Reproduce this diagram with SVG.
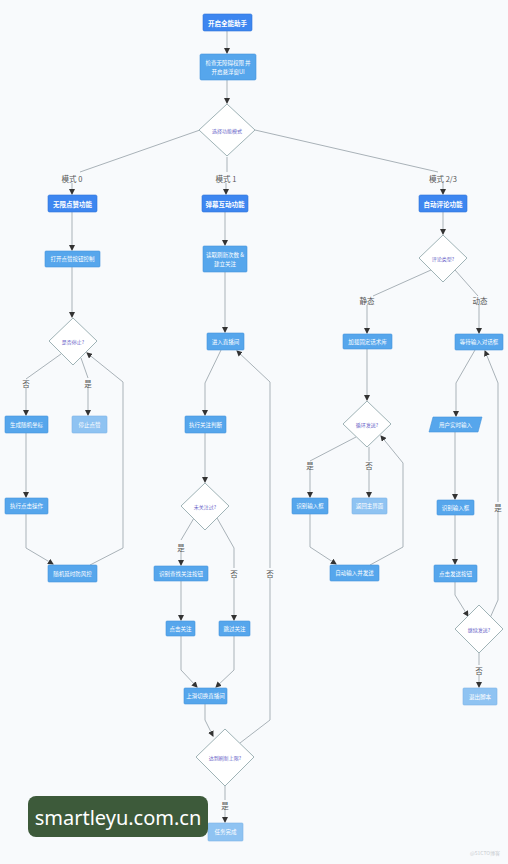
<svg xmlns="http://www.w3.org/2000/svg" width="508" height="864" viewBox="0 0 508 864">
<defs>
<marker id="ah" markerWidth="6" markerHeight="6" refX="5" refY="3" orient="auto" markerUnits="userSpaceOnUse">
<path d="M0,0 L6,3 L0,6 Z" fill="#333"/>
</marker>
<style>
.e{fill:none;stroke:#a9b2b8;stroke-width:1}
.m rect{fill:#3d86f0;stroke:#2f74d8;stroke-width:0.6}
.p rect,.p polygon{fill:#56a6ec;stroke:#4593db;stroke-width:0.6}
.t rect{fill:#8fc3f2;stroke:#7cb4e6;stroke-width:0.6}
.d polygon{fill:#ffffff;stroke:#9fb3b6;stroke-width:1}
text{font-family:"Noto Sans CJK SC","Liberation Sans",sans-serif;text-anchor:middle;dominant-baseline:central}
.m text{fill:#fff;font-size:6.5px;font-weight:bold}
.p text,.t text{fill:#fff;font-size:5.5px}
.d text{fill:#6a5fc8;font-size:5px}
.lb rect{fill:#f8fafc}
.lb text{fill:#555;font-size:7.5px}
</style>
</defs>
<rect width="508" height="864" fill="#f8fafc"/>
<g id="connectors">
<path class="e" d="M227,31 L227,53" marker-end="url(#ah)"/>
<path class="e" d="M227,80 L227,103" marker-end="url(#ah)"/>
<path class="e" d="M200,130 L80,172"/>
<path class="e" d="M72,183 L72,194" marker-end="url(#ah)"/>
<path class="e" d="M227,157 L227,172"/>
<path class="e" d="M226,183 L226,194" marker-end="url(#ah)"/>
<path class="e" d="M255,130 L438,172"/>
<path class="e" d="M443,183 L443,194" marker-end="url(#ah)"/>
<!-- mode 0 -->
<path class="e" d="M72,212 L72,250" marker-end="url(#ah)"/>
<path class="e" d="M72,267 L72,317" marker-end="url(#ah)"/>
<path class="e" d="M61,354 L26,379"/>
<path class="e" d="M26,388 L26,415" marker-end="url(#ah)"/>
<path class="e" d="M81,358 L88,378"/>
<path class="e" d="M88,388 L88,415" marker-end="url(#ah)"/>
<path class="e" d="M26,433 L26,497" marker-end="url(#ah)"/>
<path class="e" d="M26,514 L26,548 L53,564" marker-end="url(#ah)"/>
<path class="e" d="M90,565 L123,548 L123,382 L87,353" marker-end="url(#ah)"/>
<!-- mode 1 -->
<path class="e" d="M225,212 L225,245" marker-end="url(#ah)"/>
<path class="e" d="M225,272 L225,332" marker-end="url(#ah)"/>
<path class="e" d="M221,350 L205,383 L205,415" marker-end="url(#ah)"/>
<path class="e" d="M205,433 L205,482" marker-end="url(#ah)"/>
<path class="e" d="M194,518 L181,540"/>
<path class="e" d="M181,552 L181,565" marker-end="url(#ah)"/>
<path class="e" d="M217,518 L234,548 L234,568"/>
<path class="e" d="M234,578 L234,620" marker-end="url(#ah)"/>
<path class="e" d="M181,581 L181,620" marker-end="url(#ah)"/>
<path class="e" d="M181,636 L181,670 L197,687" marker-end="url(#ah)"/>
<path class="e" d="M234,636 L234,670 L216,687" marker-end="url(#ah)"/>
<path class="e" d="M205,704 L205,720 L213,736" marker-end="url(#ah)"/>
<path class="e" d="M240,743 L270,720 L270,578"/>
<path class="e" d="M270,568 L270,382 L237,351" marker-end="url(#ah)"/>
<path class="e" d="M225,786 L225,800"/>
<path class="e" d="M225,810 L225,822" marker-end="url(#ah)"/>
<!-- mode 2/3 -->
<path class="e" d="M443,212 L443,234" marker-end="url(#ah)"/>
<path class="e" d="M431,270 L373,296"/>
<path class="e" d="M367,305 L367,333" marker-end="url(#ah)"/>
<path class="e" d="M367,349 L367,400" marker-end="url(#ah)"/>
<path class="e" d="M356,437 L310,461"/>
<path class="e" d="M310,470 L310,497" marker-end="url(#ah)"/>
<path class="e" d="M369,447 L369,461"/>
<path class="e" d="M369,470 L369,497" marker-end="url(#ah)"/>
<path class="e" d="M310,514 L310,547 L336,564" marker-end="url(#ah)"/>
<path class="e" d="M370,565 L403,547 L403,463 L381,436" marker-end="url(#ah)"/>
<path class="e" d="M455,270 L478,296"/>
<path class="e" d="M479,305 L479,333" marker-end="url(#ah)"/>
<path class="e" d="M475,350 L456,383 L456,416" marker-end="url(#ah)"/>
<path class="e" d="M455,432 L455,499" marker-end="url(#ah)"/>
<path class="e" d="M455,515 L455,564" marker-end="url(#ah)"/>
<path class="e" d="M455,582 L455,595 L468,616" marker-end="url(#ah)"/>
<path class="e" d="M490,618 L498,600 L498,512"/>
<path class="e" d="M498,502 L498,383 L485,351" marker-end="url(#ah)"/>
<path class="e" d="M479,653 L479,665"/>
<path class="e" d="M479,675 L479,687" marker-end="url(#ah)"/>
</g>
<g id="labels" class="lb">
<text x="72" y="178">模式 0</text>
<text x="226" y="178">模式 1</text>
<text x="443" y="178">模式 2/3</text>
<text x="26" y="383">否</text>
<text x="88" y="383">是</text>
<text x="181" y="547">是</text>
<text x="234" y="573">否</text>
<text x="270" y="573">否</text>
<text x="225" y="805">是</text>
<text x="367" y="300">静态</text>
<text x="480" y="300">动态</text>
<text x="310" y="465">是</text>
<text x="369" y="465">否</text>
<text x="498" y="507">是</text>
<text x="479" y="670">否</text>
</g>
<g id="n_start" class="m"><rect x="203" y="14" width="49" height="17" rx="1.5"/><text x="227.5" y="22.5">开启全能助手</text></g>
<g id="n_check" class="p"><rect x="200" y="54" width="56" height="26" rx="1.5"/><text x="228" y="62.5">检查无障碍权限 并</text><text x="228" y="71.5">开启悬浮窗UI</text></g>
<g id="d_mode" class="d"><polygon points="227,104 255,130 227,156 199,130"/><text x="227" y="130">选择功能模式</text></g>
<g id="n_like" class="m"><rect x="48" y="195" width="49" height="17" rx="1.5"/><text x="72.5" y="203.5">无限点赞功能</text></g>
<g id="n_danmu" class="m"><rect x="202" y="195" width="46" height="17" rx="1.5"/><text x="225" y="203.5">弹幕互动功能</text></g>
<g id="n_comment" class="m"><rect x="419" y="195" width="48" height="17" rx="1.5"/><text x="443" y="203.5">自动评论功能</text></g>
<g id="n_openlike" class="p"><rect x="45" y="251" width="55" height="16" rx="1"/><text x="72.5" y="259">打开点赞按钮控制</text></g>
<g id="d_stop" class="d"><polygon points="73,318 97,341 73,365 49,341"/><text x="73" y="341">是否停止?</text></g>
<g id="n_coord" class="p"><rect x="5" y="416" width="43" height="17" rx="1"/><text x="26.5" y="424.5">生成随机坐标</text></g>
<g id="n_stoplike" class="t"><rect x="72" y="416" width="35" height="17" rx="1"/><text x="89.5" y="424.5">停止点赞</text></g>
<g id="n_click" class="p"><rect x="5" y="498" width="43" height="16" rx="1"/><text x="26.5" y="506">执行点击操作</text></g>
<g id="n_delay" class="p"><rect x="48" y="565" width="49" height="17" rx="1"/><text x="72.5" y="573.5">随机延时防风控</text></g>
<g id="n_read" class="p"><rect x="203" y="246" width="44" height="26" rx="1"/><text x="225" y="254.5">读取刷新次数 &amp;</text><text x="225" y="263.5">建立关注</text></g>
<g id="n_enter" class="p"><rect x="207" y="333" width="37" height="17" rx="1"/><text x="225.5" y="341.5">进入直播间</text></g>
<g id="n_judge" class="p"><rect x="185" y="416" width="41" height="17" rx="1"/><text x="205.5" y="424.5">执行关注判断</text></g>
<g id="d_followed" class="d"><polygon points="205,483 229,506 205,530 181,506"/><text x="205" y="506">未关注过?</text></g>
<g id="n_find" class="p"><rect x="154" y="566" width="54" height="15" rx="1"/><text x="181" y="573.5">识别查找关注按钮</text></g>
<g id="n_follow" class="p"><rect x="166" y="621" width="29" height="15" rx="1"/><text x="180.5" y="628.5">点击关注</text></g>
<g id="n_skip" class="p"><rect x="219" y="621" width="31" height="15" rx="1"/><text x="234.5" y="628.5">跳过关注</text></g>
<g id="n_swipe" class="p"><rect x="184" y="688" width="43" height="16" rx="1"/><text x="205.5" y="696">上滑切换直播间</text></g>
<g id="d_limit" class="d"><polygon points="225,729 254,757 225,786 196,757"/><text x="225" y="757">达到刷新上限?</text></g>
<g id="n_done" class="t"><rect x="208" y="823" width="35" height="18" rx="1"/><text x="225.5" y="832">任务完成</text></g>
<g id="d_type" class="d"><polygon points="443,235 467,258 443,282 419,258"/><text x="443" y="258">评论类型?</text></g>
<g id="n_load" class="p"><rect x="343" y="334" width="49" height="15" rx="1"/><text x="367.5" y="341.5">加载固定话术库</text></g>
<g id="d_loop" class="d"><polygon points="367,401 391,424 367,447 343,424"/><text x="367" y="424">循环发送?</text></g>
<g id="n_input1" class="p"><rect x="292" y="498" width="36" height="16" rx="1"/><text x="310" y="506">识别输入框</text></g>
<g id="n_back" class="t"><rect x="352" y="498" width="35" height="16" rx="1"/><text x="369.5" y="506">返回主界面</text></g>
<g id="n_autosend" class="p"><rect x="330" y="565" width="49" height="16" rx="1"/><text x="354.5" y="573">自动输入并发送</text></g>
<g id="n_wait" class="p"><rect x="455" y="334" width="48" height="16" rx="1"/><text x="479" y="342">等待输入对话框</text></g>
<g id="n_user" class="p"><polygon points="433,417 482,417 478,432 429,432"/><text x="455.5" y="424.5">用户实时输入</text></g>
<g id="n_input2" class="p"><rect x="437" y="500" width="37" height="15" rx="1"/><text x="455.5" y="507.5">识别输入框</text></g>
<g id="n_sendbtn" class="p"><rect x="434" y="565" width="43" height="17" rx="1"/><text x="455.5" y="573.5">点击发送按钮</text></g>
<g id="d_cont" class="d"><polygon points="479,605 503,629 479,653 455,629"/><text x="479" y="629">继续发送?</text></g>
<g id="n_exit" class="t"><rect x="463" y="688" width="34" height="17" rx="1"/><text x="480" y="696.5">退出脚本</text></g>
<g id="watermark">
<rect x="28" y="796" width="180" height="41" rx="8" fill="#3d5a3a"/>
<text x="118" y="817" style="fill:#ffffff;font-size:20px;font-family:'Noto Sans','Liberation Sans',sans-serif">smartleyu.com.cn</text>
<text x="485" y="852" style="fill:#c8ccd0;font-size:5px">@51CTO博客</text>
</g>
</svg>
